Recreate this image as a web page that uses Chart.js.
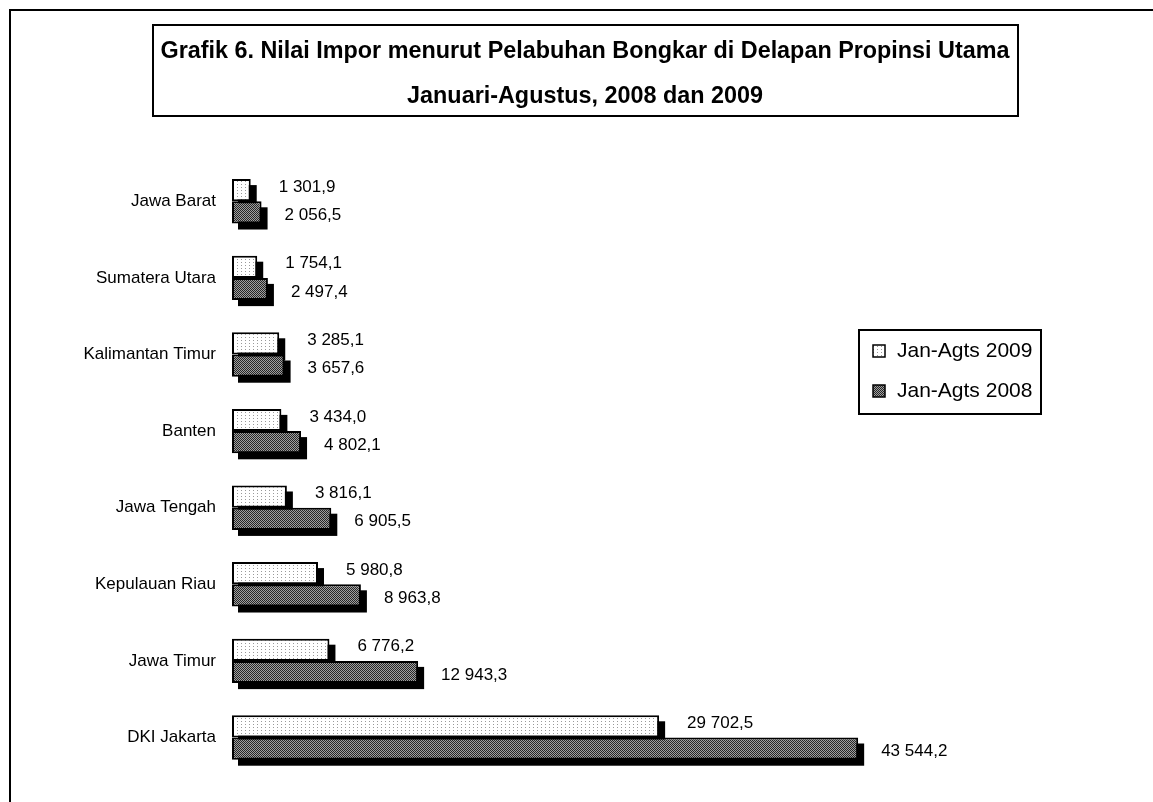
<!DOCTYPE html>
<html>
<head>
<meta charset="utf-8">
<script src="https://cdn.jsdelivr.net/npm/chart.js@4.4.1/dist/chart.umd.min.js"></script>
<style>
  html, body { margin: 0; padding: 0; background: #fff; }
  #wrap { width: 1153px; height: 802px; }
</style>
</head>
<body>
<div id="wrap"><canvas id="imporChart" width="1153" height="802"></canvas></div>
<script>
const provinces = ['Jawa Barat', 'Sumatera Utara', 'Kalimantan Timur', 'Banten', 'Jawa Tengah', 'Kepulauan Riau', 'Jawa Timur', 'DKI Jakarta'];
const jan2009 = [1301.9, 1754.1, 3285.1, 3434.0, 3816.1, 5980.8, 6776.2, 29702.5];
const jan2008 = [2056.5, 2497.4, 3657.6, 4802.1, 6905.5, 8963.8, 12943.3, 43544.2];
const seriesNames = ['Jan-Agts 2009', 'Jan-Agts 2008'];
const titleLines = ['Grafik 6. Nilai Impor menurut Pelabuhan Bongkar di Delapan Propinsi Utama', 'Januari-Agustus, 2008 dan 2009'];

const FONT = '"Liberation Sans", Arial, sans-serif';

// excel-like fill patterns
const makePattern = (kind) => {
  const c = document.createElement('canvas');
  const x = c.getContext('2d');
  if (kind === 'light') {
    c.width = 4; c.height = 3;
    x.fillStyle = '#fff'; x.fillRect(0, 0, 4, 3);
    x.fillStyle = '#999'; x.fillRect(1, 1, 1, 1);
  } else {
    c.width = 2; c.height = 2;
    x.fillStyle = '#a0a0a0'; x.fillRect(0, 0, 2, 2);
    x.fillStyle = '#262626'; x.fillRect(0, 0, 1, 1); x.fillRect(1, 1, 1, 1);
  }
  return x.createPattern(c, 'repeat');
};
const lightFill = makePattern('light');
const darkFill = makePattern('dark');

// 1 301,9 style
const fmt = (v) => {
  const [i, d] = v.toFixed(1).split('.');
  return i.replace(/\B(?=(\d{3})+(?!\d))/g, ' ') + ',' + d;
};

const framePlugin = {
  id: 'frame',
  beforeDraw(chart) {
    const ctx = chart.ctx;
    ctx.save();
    ctx.fillStyle = '#fff';
    ctx.fillRect(0, 0, chart.width, chart.height);
    ctx.strokeStyle = '#000';
    ctx.lineWidth = 2;
    ctx.beginPath();
    ctx.moveTo(10, chart.height);
    ctx.lineTo(10, 10);
    ctx.lineTo(chart.width, 10);
    ctx.stroke();
    ctx.strokeRect(153, 25, 865, 91);

    ctx.fillStyle = '#000';
    ctx.font = 'bold 24px ' + FONT;
    ctx.textAlign = 'center';
    ctx.textBaseline = 'middle';
    const s = 849 / ctx.measureText(titleLines[0]).width;
    [51, 96].forEach((y, i) => {
      ctx.save();
      ctx.translate(585, y);
      ctx.scale(s, 1);
      ctx.fillText(titleLines[i], 0, 0);
      ctx.restore();
    });
    ctx.restore();
  }
};

const shadowPlugin = {
  id: 'shadow',
  beforeDatasetsDraw(chart) {
    const ctx = chart.ctx;
    ctx.save();
    ctx.fillStyle = '#000';
    chart.data.datasets.forEach((ds, di) => {
      chart.getDatasetMeta(di).data.forEach(el => {
        const p = el.getProps(['x', 'y', 'base', 'height'], true);
        ctx.fillRect(p.base + 6, p.y - p.height / 2 + 6, p.x - p.base, p.height);
      });
    });
    ctx.restore();
  }
};

const valuePlugin = {
  id: 'values',
  afterDatasetsDraw(chart) {
    const ctx = chart.ctx;
    ctx.save();
    ctx.fillStyle = '#000';
    ctx.font = '17px ' + FONT;
    ctx.textAlign = 'left';
    ctx.textBaseline = 'middle';
    chart.data.datasets.forEach((ds, di) => {
      chart.getDatasetMeta(di).data.forEach((el, i) => {
        const p = el.getProps(['x', 'y'], true);
        ctx.fillText(fmt(ds.data[i]), p.x + (di === 0 ? 28 : 23), p.y + (di === 0 ? -3 : 3));
      });
    });
    ctx.restore();
  }
};

const legendPlugin = {
  id: 'boxLegend',
  afterDraw(chart) {
    const ctx = chart.ctx;
    ctx.save();
    ctx.strokeStyle = '#000';
    ctx.lineWidth = 2;
    ctx.strokeRect(859, 330, 182, 84);
    ctx.font = '21px ' + FONT;
    ctx.textBaseline = 'middle';
    ctx.textAlign = 'left';
    chart.data.datasets.forEach((ds, di) => {
      const y = 351 + di * 40;
      ctx.fillStyle = ds.backgroundColor;
      ctx.fillRect(873, y - 6, 12, 12);
      ctx.lineWidth = 1.5;
      ctx.strokeRect(873, y - 6, 12, 12);
      ctx.fillStyle = '#000';
      ctx.fillText(ds.label, 897, y);
    });
    ctx.restore();
  }
};

new Chart(document.getElementById('imporChart'), {
  type: 'bar',
  data: {
    labels: provinces,
    datasets: [
      {
        label: seriesNames[0],
        data: jan2009,
        backgroundColor: lightFill,
        borderColor: '#000',
        borderWidth: 2,
        borderSkipped: false,
        categoryPercentage: 0.58,
        barPercentage: 1
      },
      {
        label: seriesNames[1],
        data: jan2008,
        backgroundColor: darkFill,
        borderColor: '#000',
        borderWidth: 2,
        borderSkipped: false,
        categoryPercentage: 0.58,
        barPercentage: 1
      }
    ]
  },
  options: {
    indexAxis: 'y',
    responsive: false,
    animation: false,
    layout: { padding: { left: 0, top: 163, right: 202, bottom: 20 } },
    plugins: {
      legend: { display: false },
      tooltip: { enabled: false }
    },
    scales: {
      x: { type: 'linear', min: 0, max: 50000, display: false },
      y: {
        grid: { display: false, drawTicks: false },
        border: { display: false },
        ticks: { color: '#000', font: { family: FONT, size: 17 }, padding: 16 },
        afterFit(scale) { scale.width = 232; }
      }
    }
  },
  plugins: [framePlugin, shadowPlugin, valuePlugin, legendPlugin]
});
</script>
</body>
</html>
